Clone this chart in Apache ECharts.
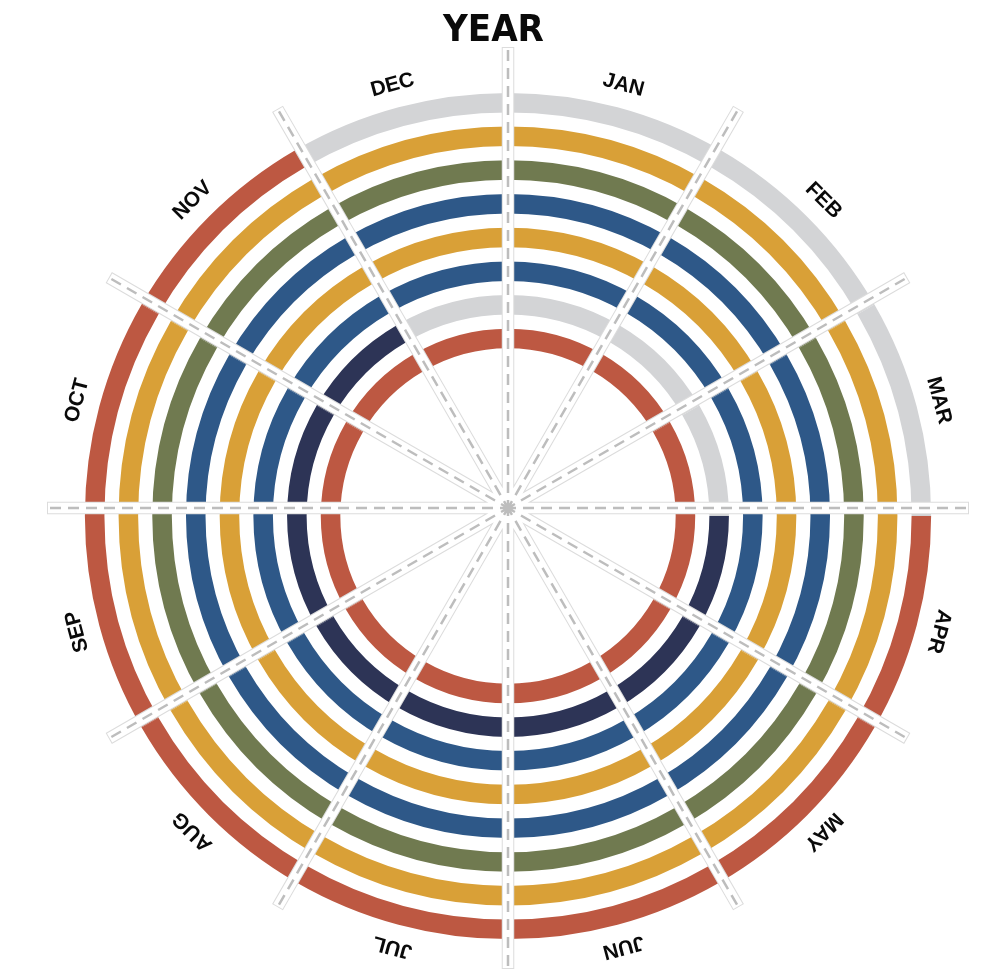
<!DOCTYPE html>
<html>
<head>
<meta charset="utf-8">
<title>Year</title>
<script src="https://cdn.jsdelivr.net/npm/echarts@6/dist/echarts.min.js"></script>
<style>
  html, body { margin: 0; padding: 0; background: #fff; }
  #chart { width: 987px; height: 971px; }
</style>
</head>
<body>
<div id="chart"></div>
<script>
const COLORS = {
  red: "#bd5842",
  yellow: "#d9a037",
  green: "#707a50",
  blue: "#2e5888",
  navy: "#2d3456",
  gray: "#d3d4d6",
  text: "#0a0a0a",
  spokeEdge: "#dcdcdc",
  spokeDash: "#bdbdbd",
};

const months = ["JAN", "FEB", "MAR", "APR", "MAY", "JUN", "JUL", "AUG", "SEP", "OCT", "NOV", "DEC"];
const rings = ["R1", "R2", "R3", "R4", "R5", "R6", "R7", "R8"]; // inner -> outer

// colour of every month on each ring, inner ring first
const ring1 = ["red", "red", "red", "red", "red", "red", "red", "red", "red", "red", "red", "red"];
const ring2 = ["gray", "gray", "gray", "navy", "navy", "navy", "navy", "navy", "navy", "navy", "navy", "gray"];
const ring3 = ["blue", "blue", "blue", "blue", "blue", "blue", "blue", "blue", "blue", "blue", "blue", "blue"];
const ring4 = ["yellow", "yellow", "yellow", "yellow", "yellow", "yellow", "yellow", "yellow", "yellow", "yellow", "yellow", "yellow"];
const ring5 = ["blue", "blue", "blue", "blue", "blue", "blue", "blue", "blue", "blue", "blue", "blue", "blue"];
const ring6 = ["green", "green", "green", "green", "green", "green", "green", "green", "green", "green", "green", "green"];
const ring7 = ["yellow", "yellow", "yellow", "yellow", "yellow", "yellow", "yellow", "yellow", "yellow", "yellow", "yellow", "yellow"];
const ring8 = ["gray", "gray", "gray", "red", "red", "red", "red", "red", "red", "red", "red", "gray"];
const ringFills = [ring1, ring2, ring3, ring4, ring5, ring6, ring7, ring8];

// every month spans one unit of the angle axis
const monthSpan = [1, 1, 1, 1, 1, 1, 1, 1, 1, 1, 1, 1];

const RING_CENTER = [508, 516];
const SPOKE_CENTER = [508, 508];

function hiddenAngle(polarIndex, extra = {}) {
  return {
    polarIndex,
    type: "value",
    min: 0,
    max: 12,
    interval: 1,
    startAngle: 90,
    axisLine: { show: false },
    axisTick: { show: false },
    axisLabel: { show: false },
    splitLine: { show: false },
    ...extra,
  };
}

function spokeAngle(polarIndex, lineStyle, z) {
  return hiddenAngle(polarIndex, { z, splitLine: { show: true, lineStyle } });
}

const chart = echarts.init(document.getElementById("chart"));

const barSeries = months.map((month, mi) => ({
  type: "bar",
  name: month,
  coordinateSystem: "polar",
  polarIndex: 0,
  stack: "year",
  barWidth: "58%",
  silent: true,
  data: ringFills.map((ring) => ({ value: monthSpan[mi], itemStyle: { color: COLORS[ring[mi]] } })),
}));

chart.setOption({
  animation: false,
  backgroundColor: "#ffffff",
  title: {
    text: "YEAR",
    left: "center",
    top: 7,
    textStyle: {
      fontSize: 38,
      fontWeight: "bold",
      fontFamily: '"Liberation Sans Narrow", "DejaVu Sans Condensed", "Liberation Sans", sans-serif',
      color: COLORS.text,
    },
  },
  polar: [
    { center: RING_CENTER, radius: [160.6, 430.2] },
    { center: SPOKE_CENTER, radius: [0, 461] },
    { center: SPOKE_CENTER, radius: [0, 460] },
    { center: SPOKE_CENTER, radius: [0, 458] },
    { center: RING_CENTER, radius: [0, 446] },
  ],
  radiusAxis: [
    { polarIndex: 0, type: "category", data: rings, show: false },
    { polarIndex: 1, type: "value", show: false },
    { polarIndex: 2, type: "value", show: false },
    { polarIndex: 3, type: "value", show: false },
    { polarIndex: 4, type: "value", min: 0, max: 1, show: false },
  ],
  angleAxis: [
    hiddenAngle(0),
    spokeAngle(1, { color: COLORS.spokeEdge, width: 12.5 }, 10),
    spokeAngle(2, { color: "#ffffff", width: 10.5 }, 11),
    spokeAngle(3, { color: COLORS.spokeDash, width: 2.5, type: [11, 7] }, 12),
    hiddenAngle(4),
  ],
  series: [
    ...barSeries,
    {
      type: "custom",
      coordinateSystem: "polar",
      polarIndex: 4,
      silent: true,
      z: 20,
      data: months.map((m, i) => [1, i + 0.5]),
      renderItem(params, api) {
        const pt = api.coord([api.value(0), api.value(1)]);
        const turn = (api.value(1) / 12) * Math.PI * 2;
        return {
          type: "text",
          x: pt[0],
          y: pt[1],
          rotation: -turn,
          style: {
            text: months[params.dataIndex],
            fill: COLORS.text,
            fontSize: 21,
            fontWeight: "bold",
            fontFamily: '"Liberation Sans", Arial, sans-serif',
            align: "center",
            verticalAlign: "middle",
          },
        };
      },
    },
  ],
});
</script>
</body>
</html>
